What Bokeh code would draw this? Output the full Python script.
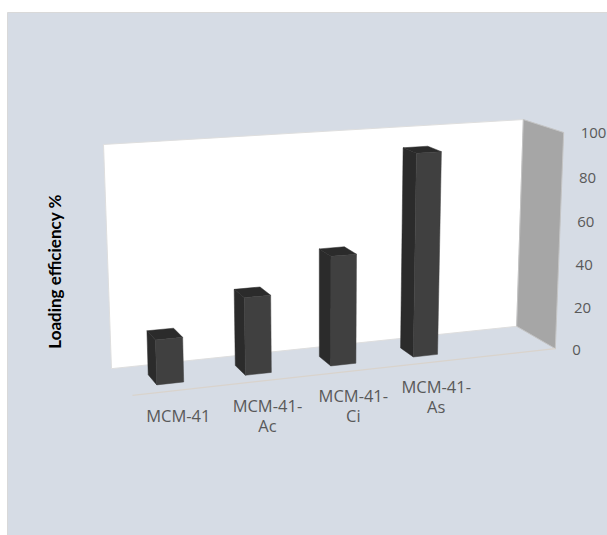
import numpy as np
from bokeh.core.properties import value
from bokeh.embed import file_html
from bokeh.models import ColumnDataSource, Range1d
from bokeh.plotting import figure
from bokeh.resources import INLINE

# Chart data
categories = [["MCM-41"], ["MCM-41-", "Ac"], ["MCM-41-", "Ci"], ["MCM-41-", "As"]]
loading_efficiency = [20, 35, 50, 93]
y_ticks = [0, 20, 40, 60, 80, 100]
y_title = "Loading efficiency %"

W, H = 607, 535
Y_MAX = 100
N = len(categories) + 1  # the category axis keeps one empty slot on the right

# Box corners in (category, value, depth) and where they sit on the page;
# depth 0 is the front edge of the floor, depth 1 the back wall.
anchors_3d = np.array([
    (0, 100, 1), (N, 100, 1), (N, 0, 1), (0, 0, 1),
    (N, 100, 0), (N, 0, 0), (0, 0, 0),
], float)
anchors_px = np.array([
    (103, 144), (523, 119), (516, 326), (111, 368),
    (563, 132), (555, 348), (132, 395),
], float)


def fit_camera(pts, px):
    """Direct linear transform from box coordinates to page pixels."""
    rows, rhs = [], []
    for (x, y, z), (u, v) in zip(pts, px):
        h = [x, y, z, 1]
        rows.append(h + [0, 0, 0, 0] + [-u * x, -u * y, -u * z])
        rhs.append(u)
        rows.append([0, 0, 0, 0] + h + [-v * x, -v * y, -v * z])
        rhs.append(v)
    sol = np.linalg.lstsq(np.array(rows), np.array(rhs), rcond=None)[0]
    return np.append(sol, 1).reshape(3, 4)


CAM = fit_camera(anchors_3d, anchors_px)


def project(x, y, z):
    q = CAM @ np.array([x, y, z, 1.0])
    return q[0] / q[2], q[1] / q[2]


def face(corners):
    pts = [p[:] for p in (project(*c) for c in corners)]
    return [p[0] for p in pts], [p[1] for p in pts]


p = figure(width=W, height=H, output_backend="svg", toolbar_location=None,
           x_range=Range1d(0, W), y_range=Range1d(H, 0),
           min_border=0, outline_line_color=None, background_fill_color="white",
           border_fill_color="white")
p.axis.visible = False
p.grid.visible = False

# Chart area background
p.quad(left=7, right=W, top=12, bottom=H, fill_color="#d6dce5", line_color=None)
p.segment(x0=7, x1=W, y0=12, y1=12, line_color="#d9d9d9", line_width=1)
p.segment(x0=7, x1=7, y0=12, y1=H, line_color="#d9d9d9", line_width=1)

# Walls
bx, by = face([(0, Y_MAX, 1), (N, Y_MAX, 1), (N, 0, 1), (0, 0, 1)])
p.patch(bx, by, fill_color="white", line_color="#dedede", line_width=1)
sx, sy = face([(N, Y_MAX, 1), (N, Y_MAX, 0), (N, 0, 0), (N, 0, 1)])
p.patch(sx, sy, fill_color="#a6a6a6", line_color="#c4c4c4", line_width=1)

# Floor edge
fx, fy = face([(0, 0, 0), (N, 0, 0)])
p.line(fx, fy, line_color="#d9d3cc", line_width=1.2)

# Bars: left side, top and front faces of each block
BAR_W, BAR_SHIFT, Z_FRONT, Z_BACK = 0.30, -0.02, 0.26, 0.64
side, top, front = [], [], []
for i, v in enumerate(loading_efficiency):
    mid = i + 0.5 + BAR_SHIFT
    x0, x1 = mid - BAR_W / 2, mid + BAR_W / 2
    side.append(face([(x0, v, Z_BACK), (x0, v, Z_FRONT), (x0, 0, Z_FRONT), (x0, 0, Z_BACK)]))
    top.append(face([(x0, v, Z_BACK), (x1, v, Z_BACK), (x1, v, Z_FRONT), (x0, v, Z_FRONT)]))
    front.append(face([(x0, v, Z_FRONT), (x1, v, Z_FRONT), (x1, 0, Z_FRONT), (x0, 0, Z_FRONT)]))

for faces, colour in ((side, "#2b2b2b"), (top, "#2b2b2b"), (front, "#404040")):
    src = ColumnDataSource(dict(xs=[f[0] for f in faces], ys=[f[1] for f in faces]))
    p.patches("xs", "ys", source=src, fill_color=colour, line_color=colour, line_width=0.5)

# Value labels to the right of the side wall
LABEL_FONT = value("Open Sans")
tx, ty = zip(*[project(N, t, 0) for t in y_ticks])
p.text([x + 17 for x in tx], [y + 1 for y in ty], text=[str(t) for t in y_ticks],
       text_font=LABEL_FONT, text_font_size="15px", text_color="#595959",
       text_align="left", text_baseline="middle")

# Category labels below the floor, one text per line
lx, ly, lt = [], [], []
for i, lines in enumerate(categories):
    cx, cy = project(i + 0.5, 0, 0)
    start = 25
    for j, line in enumerate(lines):
        lx.append(cx)
        ly.append(cy + start + j * 20)
        lt.append(line)
p.text(lx, ly, text=lt, text_font=LABEL_FONT, text_font_size="16.5px",
       text_color="#595959", text_align="center", text_baseline="middle")

# Vertical axis title
p.text([54], [271], text=[y_title], angle=np.pi / 2, text_font=value("Lato"),
       text_font_size="17px", text_font_style="bold", text_color="black",
       text_align="center", text_baseline="middle")

open("out.html", "w").write(file_html(p, INLINE))
